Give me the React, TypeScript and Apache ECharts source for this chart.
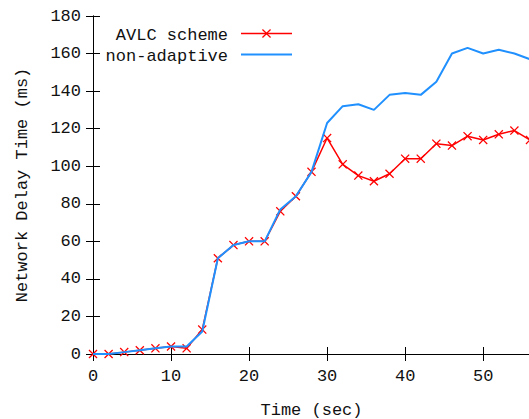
import React, { useEffect, useRef } from "react";
import * as echarts from "echarts";

const times = [0, 2, 4, 6, 8, 10, 12, 14, 16, 18, 20, 22, 24, 26, 28, 30, 32, 34, 36, 38, 40, 42, 44, 46, 48, 50, 52, 54, 56];
const avlcScheme = [0, 0, 1, 2, 3, 4, 3, 13, 51, 58, 60, 60, 76, 84, 97, 115, 101, 95, 92, 96, 104, 104, 112, 111, 116, 114, 117, 119, 114];
const nonAdaptive = [0, 0, 1, 2, 3, 4, 4, 12, 51, 58, 60, 60, 77, 84, 97, 123, 132, 133, 130, 138, 139, 138, 145, 160, 163, 160, 162, 160, 157];
const xTicks = [0, 10, 20, 30, 40, 50];
const yTicks = [0, 20, 40, 60, 80, 100, 120, 140, 160, 180];

const FONT = "Liberation Mono";
const RED = "#ff0000";
const BLUE = "#2090ff";
const X_SYMBOL = "path://M0,1L1,0L5,4L9,0L10,1L6,5L10,9L9,10L5,6L1,10L0,9L4,5Z";

function xPoints(cx: number, cy: number, s: number) {
  const pts = [[0, 1], [1, 0], [5, 4], [9, 0], [10, 1], [6, 5], [10, 9], [9, 10], [5, 6], [1, 10], [0, 9], [4, 5]];
  return pts.map(([px, py]) => [cx + ((px - 5) * s) / 10, cy + ((py - 5) * s) / 10]);
}

export default function App() {
  const ref = useRef<HTMLDivElement>(null);
  useEffect(() => {
    if (!ref.current) return;
    const chart = echarts.init(ref.current, undefined, { renderer: "svg" });
    const axisCommon = {
      axisLine: { show: true, lineStyle: { color: "#000", width: 1 } },
      axisTick: { show: true, inside: true, length: 7, lineStyle: { color: "#000", width: 1 } },
      splitLine: { show: false },
    };
    const labelStyle = { color: "#111", fontFamily: FONT, fontSize: 17 };
    chart.setOption({
      animation: false,
      backgroundColor: "#fff",
      grid: { left: 93, top: 16, right: -1, bottom: 65, outerBoundsMode: "none", containLabel: false },
      xAxis: [
        {
          type: "value",
          min: xTicks[0],
          max: 56,
          interval: 10,
          position: "bottom",
          ...axisCommon,
          axisLabel: { ...labelStyle, margin: 14, showMaxLabel: false },
          name: "Time (sec)",
          nameLocation: "middle",
          nameGap: 48,
          nameTextStyle: { ...labelStyle },
        },
        {
          type: "value",
          min: xTicks[0],
          max: 56,
          interval: 10,
          position: "top",
          ...axisCommon,
          axisLabel: { show: false },
        },
      ],
      yAxis: [
        {
          type: "value",
          min: yTicks[0],
          max: yTicks[yTicks.length - 1],
          interval: 20,
          position: "left",
          ...axisCommon,
          axisLabel: { ...labelStyle, margin: 12 },
          name: "Network Delay Time (ms)",
          nameLocation: "middle",
          nameGap: 62,
          nameTextStyle: { ...labelStyle },
        },
        {
          type: "value",
          min: yTicks[0],
          max: yTicks[yTicks.length - 1],
          interval: 20,
          position: "right",
          ...axisCommon,
          axisLabel: { show: false },
        },
      ],
      series: [
        {
          name: "AVLC scheme",
          type: "line",
          data: times.map((t, i) => [t, avlcScheme[i]]),
          symbol: X_SYMBOL,
          symbolSize: 9,
          showSymbol: true,
          lineStyle: { color: RED, width: 1.5 },
          itemStyle: { color: RED },
          z: 2,
        },
        {
          name: "non-adaptive",
          type: "line",
          data: times.map((t, i) => [t, nonAdaptive[i]]),
          symbol: "none",
          lineStyle: { color: BLUE, width: 2 },
          itemStyle: { color: BLUE },
          z: 3,
        },
      ],
      graphic: [
        {
          type: "text",
          x: 228,
          y: 35,
          style: { text: "AVLC scheme", fill: "#111", font: `17px '${FONT}'`, align: "right", verticalAlign: "middle", textAlign: "right", textVerticalAlign: "middle" },
        },
        { type: "line", shape: { x1: 241, y1: 33.5, x2: 292, y2: 33.5 }, style: { stroke: RED, lineWidth: 1.5 } },
        { type: "polygon", shape: { points: xPoints(266.5, 33.5, 9) }, style: { fill: RED } },
        {
          type: "text",
          x: 228,
          y: 56,
          style: { text: "non-adaptive", fill: "#111", font: `17px '${FONT}'`, align: "right", verticalAlign: "middle", textAlign: "right", textVerticalAlign: "middle" },
        },
        { type: "line", shape: { x1: 241, y1: 54.5, x2: 292, y2: 54.5 }, style: { stroke: BLUE, lineWidth: 2 } },
      ],
    });
    return () => chart.dispose();
  }, []);
  return <div ref={ref} style={{ position: "fixed", left: 0, top: 0, width: 529, height: 419 }} />;
}
